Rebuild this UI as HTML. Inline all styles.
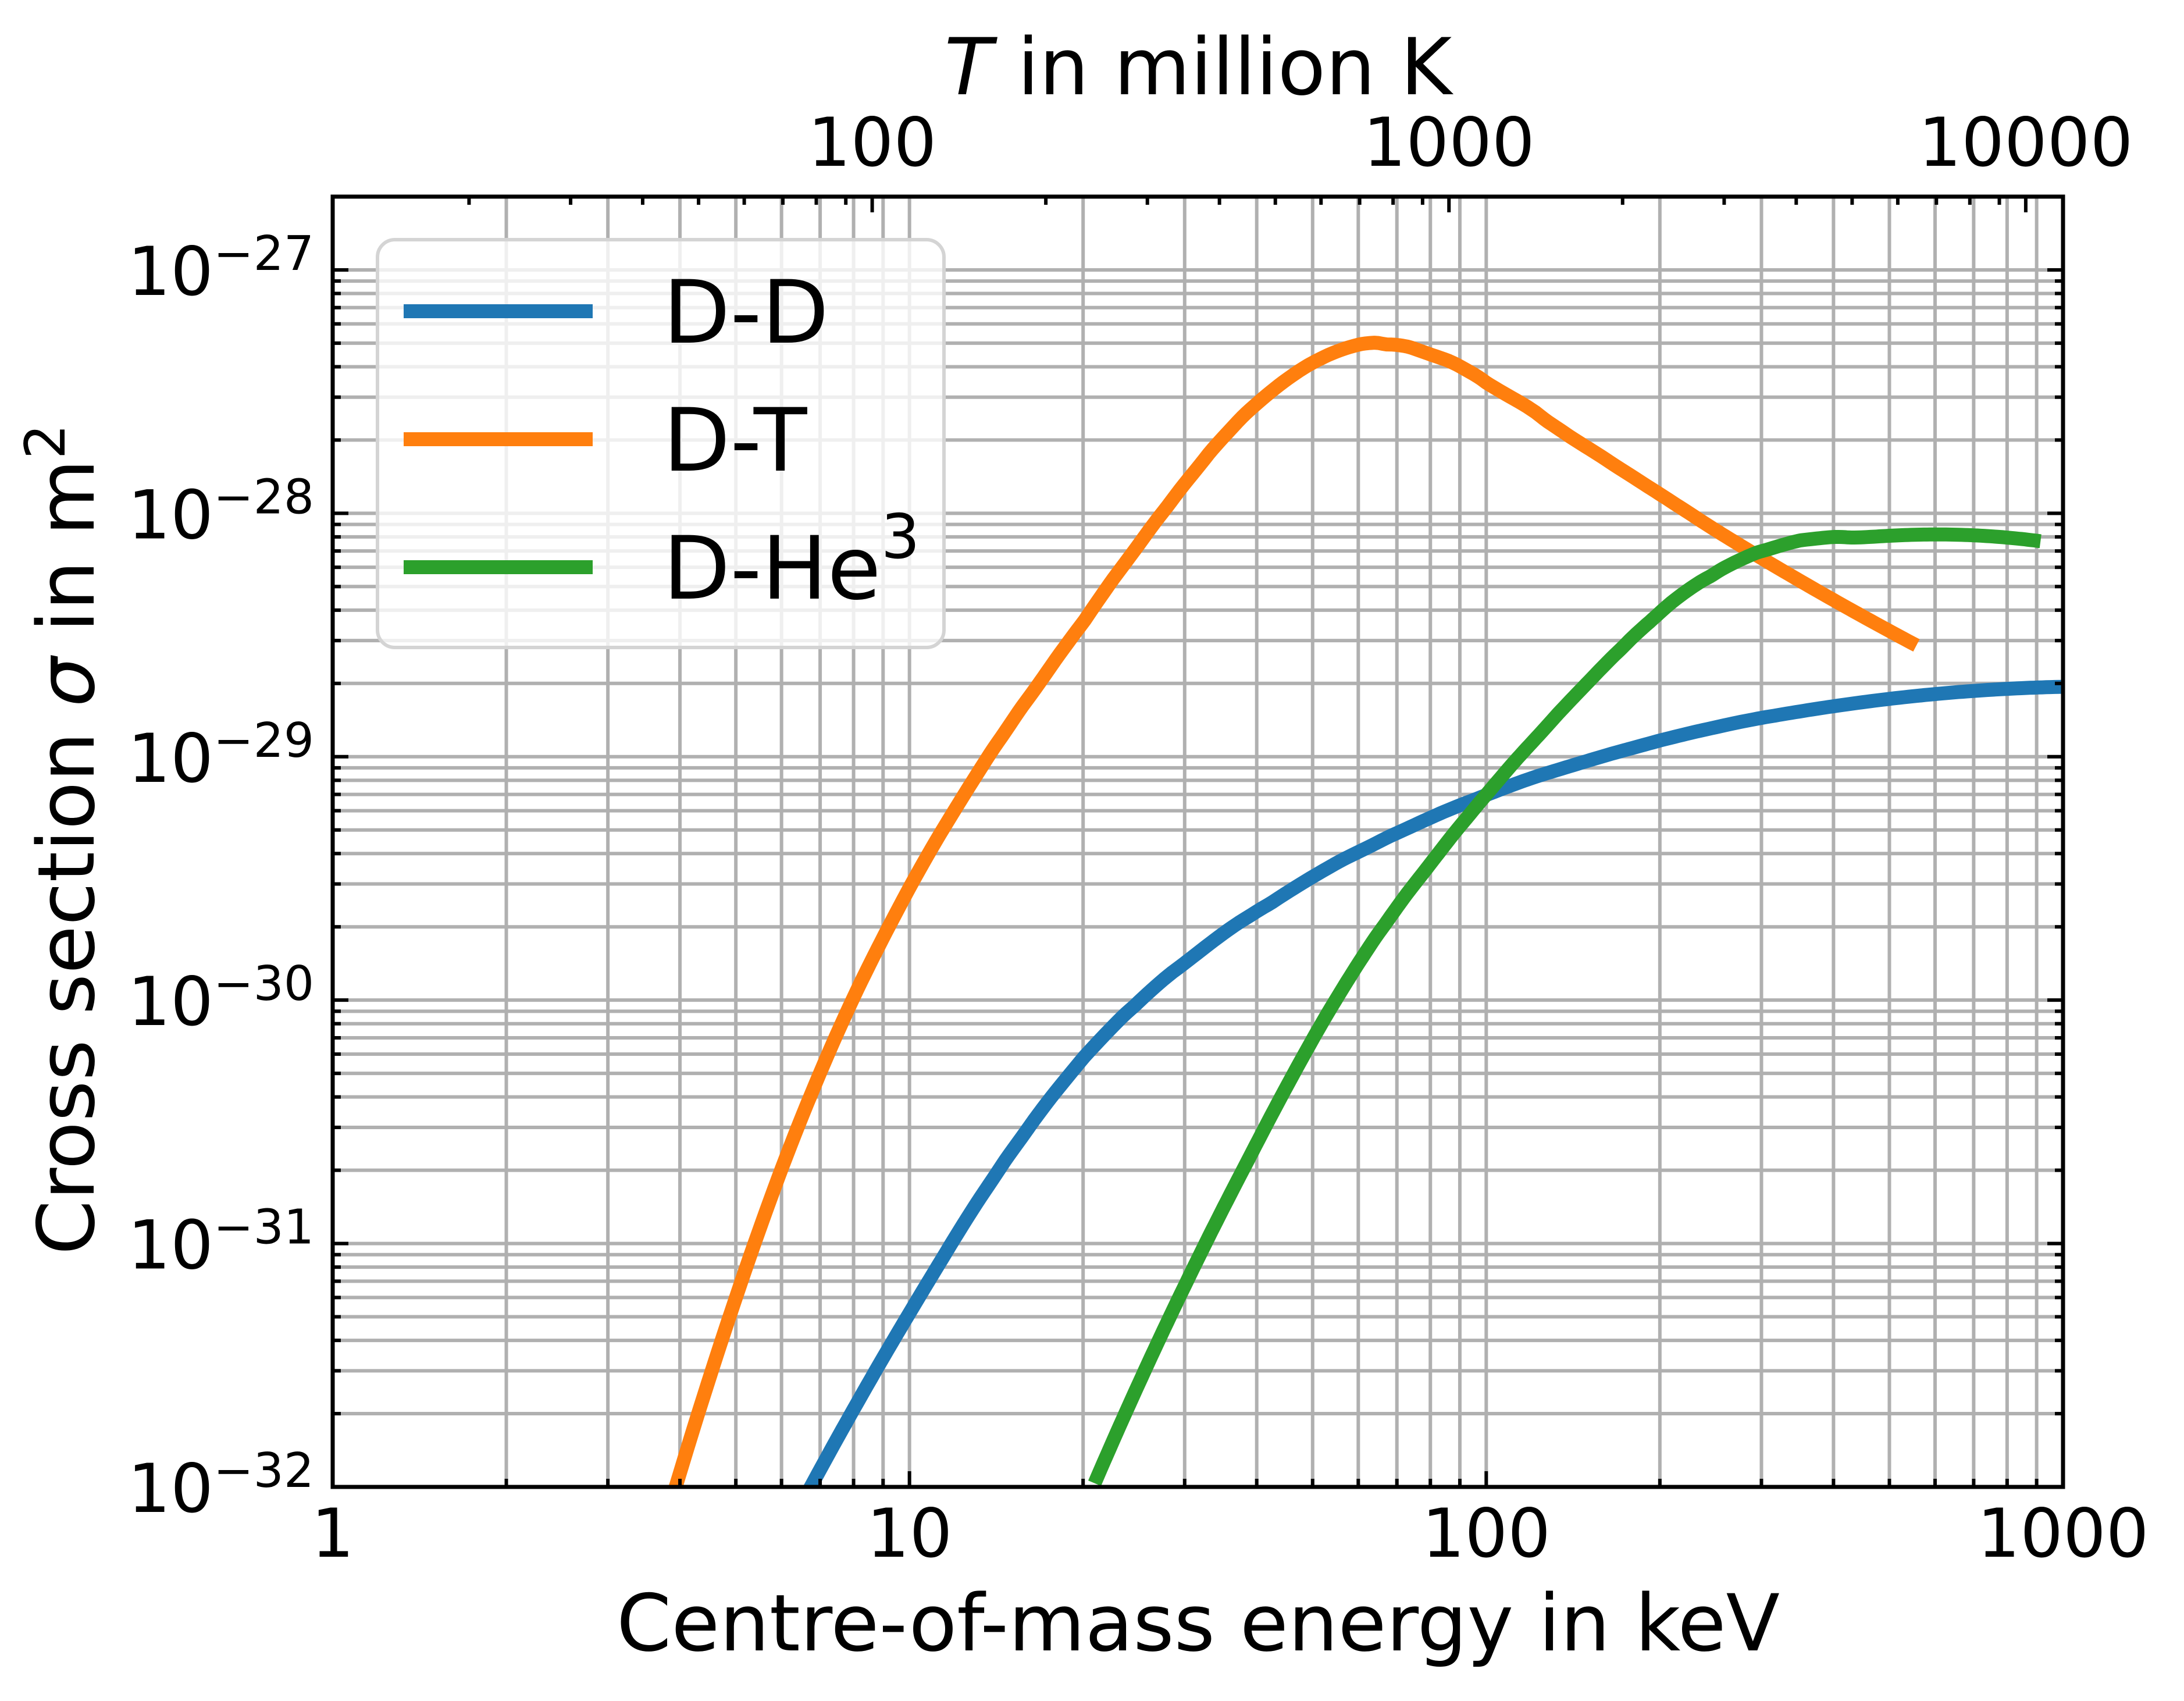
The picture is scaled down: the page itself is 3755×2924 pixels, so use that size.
<!DOCTYPE html>
<html><head><meta charset="utf-8">
<style>
html,body{margin:0;padding:0;background:#fff;}
svg{display:block;font-family:"DejaVu Sans","Liberation Sans",sans-serif;}
</style></head>
<body>
<svg id="chart" width="3755" height="2924" viewBox="0 0 3755 2924" xmlns="http://www.w3.org/2000/svg">
<defs><clipPath id="plotclip"><rect x="572" y="338" width="2975" height="2218"/></clipPath></defs>
<rect x="0" y="0" width="3755" height="2924" fill="#fff"/>
<g id="grid"></g>
<g id="series" clip-path="url(#plotclip)"></g>
<g id="ticks"></g>
<rect x="572" y="338" width="2975" height="2218" fill="none" stroke="#000" stroke-width="7"/>
<g id="labels"></g>
<text x="2060" y="2837" font-size="135" text-anchor="middle">Centre-of-mass energy in keV</text>
<text x="2060" y="162" font-size="135" text-anchor="middle"><tspan font-style="italic">T</tspan> in million K</text>
<text transform="translate(161,1443) rotate(-90)" font-size="135" text-anchor="middle">Cross section <tspan font-style="italic">σ</tspan> in m<tspan font-size="95" dy="-50">2</tspan></text>
<g id="legend">
<rect x="649" y="412" width="974" height="701" rx="30" ry="30" fill="#fff" fill-opacity="0.8" stroke="#d4d4d4" stroke-width="6"/>
<line x1="694" y1="535" x2="1019" y2="535" stroke="#1f77b4" stroke-width="24"/>
<text x="1140" y="589" font-size="150">D-D</text>
<line x1="694" y1="755" x2="1019" y2="755" stroke="#ff7f0e" stroke-width="24"/>
<text x="1140" y="809" font-size="150">D-T</text>
<line x1="694" y1="975" x2="1019" y2="975" stroke="#2ca02c" stroke-width="24"/>
<text x="1140" y="1029" font-size="150">D-He<tspan font-size="105" dy="-70">3</tspan></text>
</g>
</svg>
<script>
// data (energy in keV, log10 of cross section in m^2)
const ddE = [6.68, 8.07, 10.07, 13.74, 17.95, 23.44, 30.69, 40.1, 59.8, 99.8, 198.6, 299, 499, 700, 1000];
const ddLog = [-32.0, -31.70, -31.263, -30.756, -30.384, -30.046, -29.843, -29.640, -29.387, -29.167, -28.930, -28.846, -28.761, -28.733, -28.711];
const dtE = [3.92, 4.43, 4.95, 5.92, 6.76, 8.07, 10.07, 12.85, 16.79, 22.39, 30.69, 40.1, 50.1, 65.3, 79.8, 99.8, 145.5, 198.6, 299, 399, 557];
const dtLog = [-32.0, -31.635, -31.229, -30.739, -30.384, -29.961, -29.539, -29.099, -28.693, -28.305, -27.832, -27.561, -27.375, -27.291, -27.341, -27.477, -27.713, -27.916, -28.187, -28.356, -28.541];
const dhE = [20.94, 25.06, 30.69, 40.1, 50.1, 59.8, 79.8, 99.8, 145.5, 198.6, 253.5, 299, 399, 603, 914];
const dhLog = [-32.0, -31.533, -31.145, -30.587, -30.147, -29.860, -29.437, -29.167, -28.727, -28.423, -28.220, -28.153, -28.112, -28.102, -28.109];
const xTickLabels = ["1", "10", "100", "1000"];
const topTickLabels = ["100", "1000", "10000"];
const yTickExps = ["-32", "-31", "-30", "-29", "-28", "-27"];

const L = 572, R = 3547, T = 338, B = 2556;
const xmin = 0, xmax = 3, ymin = -32, ymax = -26.699;
const KELVIN_PER_KEV = 11.6045; // million K per keV
function xs(e) { return L + (Math.log10(e) - xmin) / (xmax - xmin) * (R - L); }
function xsLog(le) { return L + (le - xmin) / (xmax - xmin) * (R - L); }
function ysLog(l) { return B - (l - ymin) / (ymax - ymin) * (B - T); }
const NS = "http://www.w3.org/2000/svg";
function mk(tag, attrs, parent) {
  const el = document.createElementNS(NS, tag);
  for (const k in attrs) el.setAttribute(k, attrs[k]);
  parent.appendChild(el);
  return el;
}
const grid = document.getElementById('grid');
const ticks = document.getElementById('ticks');
const labels = document.getElementById('labels');

for (let d = 0; d < 3; d++) {
  for (let m = 1; m <= 9; m++) {
    const e = Math.pow(10, d) * m;
    const x = xs(e);
    if (m > 1 || d > 0) {
      const g = mk('line', {x1: x, y1: T, x2: x, y2: B, stroke: '#b0b0b0', 'stroke-width': 6}, grid);
      
      
    }
    const len = m === 1 ? 27 : 14;
    const t = mk('line', {x1: x, y1: B, x2: x, y2: B - len, stroke: '#000', 'stroke-width': 6}, ticks);
    
    
  }
}
xTickLabels.forEach((lab, i) => {
  const t = mk('text', {x: xs(Math.pow(10, i)), y: 2676, 'font-size': 116, 'text-anchor': 'middle'}, labels);
  t.textContent = lab;
  
  
});
for (let d = 1; d <= 4; d++) {
  for (let m = 1; m <= 9; m++) {
    const tv = Math.pow(10, d) * m;
    const e = tv / KELVIN_PER_KEV;
    if (e < 1 || e > 1000) continue;
    const x = xs(e);
    const len = m === 1 ? 27 : 14;
    const t = mk('line', {x1: x, y1: T, x2: x, y2: T + len, stroke: '#000', 'stroke-width': 6}, ticks);
    
    
  }
}
topTickLabels.forEach((lab) => {
  const t = mk('text', {x: xs(parseFloat(lab) / KELVIN_PER_KEV), y: 285, 'font-size': 116, 'text-anchor': 'middle'}, labels);
  t.textContent = lab;
  
  
});
for (let d = -32; d <= -27; d++) {
  for (let m = 1; m <= 9; m++) {
    const l = d + Math.log10(m);
    if (l > ymax) continue;
    const y = ysLog(l);
    if (d > -32 || m > 1) {
      const g = mk('line', {x1: L, y1: y, x2: R, y2: y, stroke: '#b0b0b0', 'stroke-width': 6}, grid);
      
      
    }
    const len = m === 1 ? 27 : 14;
    const t1 = mk('line', {x1: L, y1: y, x2: L + len, y2: y, stroke: '#000', 'stroke-width': 6}, ticks);
    
    
    const t2 = mk('line', {x1: R, y1: y, x2: R - len, y2: y, stroke: '#000', 'stroke-width': 6}, ticks);
    
    
  }
}
yTickExps.forEach((ex) => {
  const y = ysLog(parseFloat(ex));
  const t = mk('text', {x: 540, y: y + 43, 'font-size': 116, 'text-anchor': 'end'}, labels);
  
  
  const a = mk('tspan', {}, t); a.textContent = '10';
  const b = mk('tspan', {'font-size': 82, dy: -43}, t); b.textContent = '−' + ex.slice(1);
});
// locally weighted quadratic smoothing in log-log space (adaptive bandwidth)
function loess(lx, ly, x0) {
  const dist = lx.map(v => Math.abs(v - x0)).sort((p, q) => p - q);
  const h = Math.max(0.34, dist[Math.min(5, dist.length - 1)] * 1.15);
  let S = [[0,0,0],[0,0,0],[0,0,0]], V = [0,0,0];
  for (let i = 0; i < lx.length; i++) {
    const u = (lx[i] - x0) / h;
    if (Math.abs(u) >= 1) continue;
    const w = Math.pow(1 - Math.pow(Math.abs(u), 3), 3);
    const b = [1, lx[i] - x0, (lx[i] - x0) * (lx[i] - x0)];
    for (let r = 0; r < 3; r++) { V[r] += w * b[r] * ly[i]; for (let c = 0; c < 3; c++) S[r][c] += w * b[r] * b[c]; }
  }
  const M = S.map((row, r) => row.concat([V[r]]));
  for (let c = 0; c < 3; c++) {
    let p = c; for (let r = c + 1; r < 3; r++) if (Math.abs(M[r][c]) > Math.abs(M[p][c])) p = r;
    [M[c], M[p]] = [M[p], M[c]];
    if (Math.abs(M[c][c]) < 1e-12) return null;
    for (let r = 0; r < 3; r++) if (r !== c) { const f = M[r][c] / M[c][c]; for (let k = c; k < 4; k++) M[r][k] -= f * M[c][k]; }
  }
  return M[0][3] / M[0][0];
}
function pathFor(E, Lg) {
  const lx = E.map(e => Math.log10(e));
  const a = lx[0], b = lx[lx.length - 1];
  const n = 300;
  let d = '';
  let last = Lg[0];
  for (let i = 0; i <= n; i++) {
    const x0 = a + (b - a) * i / n;
    let y = loess(lx, Lg, x0);
    if (y === null || !isFinite(y)) y = last;
    last = y;
    d += (i === 0 ? 'M' : ' L') + xsLog(x0).toFixed(1) + ',' + ysLog(y).toFixed(1);
  }
  return d;
}
const series = document.getElementById('series');
const s1 = mk('path', {d: pathFor(ddE, ddLog), fill: 'none', stroke: '#1f77b4', 'stroke-width': 24, 'stroke-linejoin': 'round'}, series);


const s2 = mk('path', {d: pathFor(dtE, dtLog), fill: 'none', stroke: '#ff7f0e', 'stroke-width': 24, 'stroke-linejoin': 'round'}, series);


const s3 = mk('path', {d: pathFor(dhE, dhLog), fill: 'none', stroke: '#2ca02c', 'stroke-width': 24, 'stroke-linejoin': 'round'}, series);


document.getElementById('chart').appendChild(document.getElementById('legend'));
</script>
</body></html>
